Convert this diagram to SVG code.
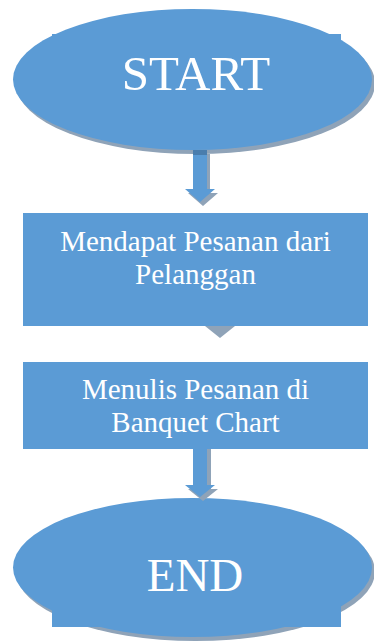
<svg xmlns="http://www.w3.org/2000/svg" width="374" height="641" viewBox="0 0 374 641">
<defs>
<style>
.fill{fill:#5B9BD5;}
.shadow{fill:#8FA3B8;}
.lbl{font-family:"Liberation Serif","Times New Roman",serif;fill:#FFFFFF;text-anchor:middle;}
.big{font-size:47px;}
.mid{font-size:29px;}
</style>
</defs>
<rect width="374" height="641" fill="#FFFFFF"/>
<g id="start">
<ellipse class="shadow" cx="195.5" cy="83.5" rx="179.5" ry="70.5"/>
<ellipse class="fill" cx="192.5" cy="79.5" rx="179.5" ry="70.5"/>
<rect class="fill" x="52" y="34" width="289" height="60"/>
<text class="lbl big" x="196" y="90" style="font-size:49px">START</text>
</g>
<g id="box1">
<rect class="fill" x="23" y="213" width="345" height="113"/>
<text class="lbl mid" x="195.5" y="251">Mendapat Pesanan dari</text>
<text class="lbl mid" x="195.5" y="284">Pelanggan</text>
</g>
<g id="box2">
<rect class="fill" x="23" y="362" width="345" height="87"/>
<text class="lbl mid" x="195.5" y="399">Menulis Pesanan di</text>
<text class="lbl mid" x="195.5" y="432">Banquet Chart</text>
</g>
<g id="end">
<ellipse class="shadow" cx="195.5" cy="571.5" rx="179.5" ry="69.5"/>
<ellipse class="fill" cx="192.5" cy="567.5" rx="179.5" ry="69.5"/>
<rect class="fill" x="52" y="540" width="289" height="87"/>
<text class="lbl big" x="195" y="591">END</text>
</g>
<g id="connectors">
<g id="arrow1">
<path class="shadow" d="M196,154 H210 V193 H218 L203,206 L188,193 H196 Z"/>
<path class="fill" d="M193,150 H207 V189 H215 L200,202 L185,189 H193 Z"/>
<rect x="193" y="150" width="14" height="5" fill="#4A7DAD"/>
</g>
<g id="arrow2">
<path class="shadow" d="M205,326 H235 L220,338 Z"/>
</g>
<g id="arrow3">
<path class="shadow" d="M196,449 H211 V489 H218 L203,501 L188,489 H196 Z"/>
<path class="fill" d="M193,449 H207 V485 H215 L200,497 L185,485 H193 Z"/>
</g>
</g>
</svg>
